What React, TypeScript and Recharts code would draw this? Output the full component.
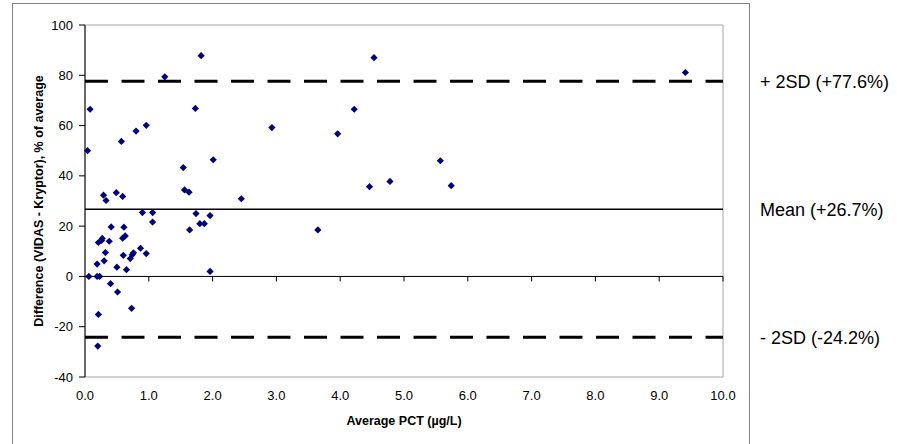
import {
  ScatterChart,
  Scatter,
  XAxis,
  YAxis,
  ReferenceLine,
  ReferenceArea,
} from "recharts"

// Bland-Altman: VIDAS vs Kryptor PCT
const avgPct = [
  0.04, 0.06, 0.08, 0.19, 0.19, 0.2, 0.21, 0.21, 0.23, 0.26, 0.27, 0.29, 0.3, 0.32, 0.33, 0.38,
  0.4, 0.41, 0.49, 0.5, 0.51, 0.57, 0.59, 0.59, 0.6, 0.61, 0.63, 0.65, 0.71, 0.73, 0.74, 0.76,
  0.8, 0.87, 0.9, 0.96, 0.96, 1.06, 1.06, 1.25, 1.54, 1.56, 1.63, 1.64, 1.73, 1.74, 1.8, 1.82,
  1.87, 1.96, 1.96, 2.01, 2.45, 2.93, 3.65, 3.96, 4.22, 4.46, 4.53, 4.78, 5.57, 5.74, 9.41,
]
const diffPct = [
  50.0, 0.0, 66.5, 0.0, 4.9, -27.7, -15.1, 13.5, 0.0, 14.3, 15.1, 32.3, 6.2, 9.5, 30.2, 14.0,
  -2.9, 19.7, 33.3, 3.7, -6.2, 53.7, 31.8, 15.2, 8.4, 19.6, 16.1, 2.7, 7.1, -12.7, 8.6, 9.4,
  57.8, 11.2, 25.4, 9.1, 60.1, 25.4, 21.6, 79.4, 43.3, 34.4, 33.5, 18.5, 66.8, 25.0, 21.0, 87.8,
  21.0, 24.2, 2.0, 46.4, 30.9, 59.2, 18.5, 56.7, 66.5, 35.7, 87.0, 37.8, 46.0, 36.1, 81.1,
]

const xTicks = [0, 1, 2, 3, 4, 5, 6, 7, 8, 9, 10]
const yTicks = [-40, -20, 0, 20, 40, 60, 80, 100]

const meanDiff = 26.7
const upperLimit = 77.6
const lowerLimit = -24.2

const data = avgPct.map((x, i) => ({ x, y: diffPct[i] }))

const FONT = '"Liberation Sans", Arial, sans-serif'

const Diamond = (props: any) => {
  const { cx, cy } = props
  const r = 3.6
  return (
    <path
      d={`M${cx},${cy - r}L${cx + r},${cy}L${cx},${cy + r}L${cx - r},${cy}Z`}
      fill="#000080"
    />
  )
}

const sideLabel = (value: string) => ({
  value,
  position: "right" as const,
  offset: 37,
  fill: "#000",
  fontSize: 18,
  fontFamily: FONT,
})

export default function App() {
  return (
    <div style={{ position: "relative", width: 897, height: 444, overflow: "hidden", fontFamily: FONT }}>
      <style>{"body{margin:0}"}</style>
      <div
        style={{
          position: "absolute",
          left: 12,
          top: 3,
          width: 736,
          height: 470,
          border: "1px solid #808080",
        }}
      />
      <div style={{ position: "absolute", left: 0, top: 0 }}>
        <ScatterChart
          width={897}
          height={444}
          margin={{ top: 25, right: 174, bottom: 17, left: 0 }}
        >
          <ReferenceArea
            x1={0}
            x2={10}
            y1={-40}
            y2={100}
            fill="none"
            stroke="#a6a6a6"
            strokeWidth={1}
            fillOpacity={0}
          />
          <XAxis
            type="number"
            dataKey="x"
            domain={[0, 10]}
            ticks={xTicks}
            tickFormatter={(v: number) => v.toFixed(1)}
            axisLine={false}
            tickLine={false}
            tickSize={0}
            tickMargin={14}
            height={50}
            tick={{ fill: "#000", fontSize: 13, fontFamily: FONT }}
            label={{
              value: "Average PCT (µg/L)",
              position: "insideBottom",
              offset: 2,
              fill: "#000",
              fontSize: 12.5,
              fontWeight: "bold",
              fontFamily: FONT,
            }}
          />
          <YAxis
            type="number"
            dataKey="y"
            domain={[-40, 100]}
            ticks={yTicks}
            width={85}
            axisLine={{ stroke: "#000" }}
            tickLine={{ stroke: "#000" }}
            tickSize={6}
            tickMargin={6}
            tick={{ fill: "#000", fontSize: 13, fontFamily: FONT }}
            label={{
              value: "Difference (VIDAS - Kryptor),  % of average",
              angle: -90,
              position: "insideLeft",
              offset: 39,
              fill: "#000",
              fontSize: 12.5,
              fontWeight: "bold",
              fontFamily: FONT,
              style: { textAnchor: "middle", whiteSpace: "pre" },
            }}
          />
          <ReferenceLine y={0} stroke="#000" strokeWidth={1} />
          {xTicks.slice(1).map((t) => (
            <ReferenceLine
              key={t}
              segment={[
                { x: t, y: 0 },
                { x: t, y: -2 },
              ]}
              stroke="#000"
              strokeWidth={1}
            />
          ))}
          <ReferenceLine y={meanDiff} stroke="#000" strokeWidth={1.5} label={sideLabel("Mean (+26.7%)")} />
          <ReferenceLine
            y={upperLimit}
            stroke="#000"
            strokeWidth={3}
            strokeDasharray="23 13.5"
            label={sideLabel("+ 2SD (+77.6%)")}
          />
          <ReferenceLine
            y={lowerLimit}
            stroke="#000"
            strokeWidth={3}
            strokeDasharray="23 13.5"
            label={sideLabel("- 2SD (-24.2%)")}
          />
          <Scatter data={data} shape={Diamond} isAnimationActive={false} />
        </ScatterChart>
      </div>
    </div>
  )
}
